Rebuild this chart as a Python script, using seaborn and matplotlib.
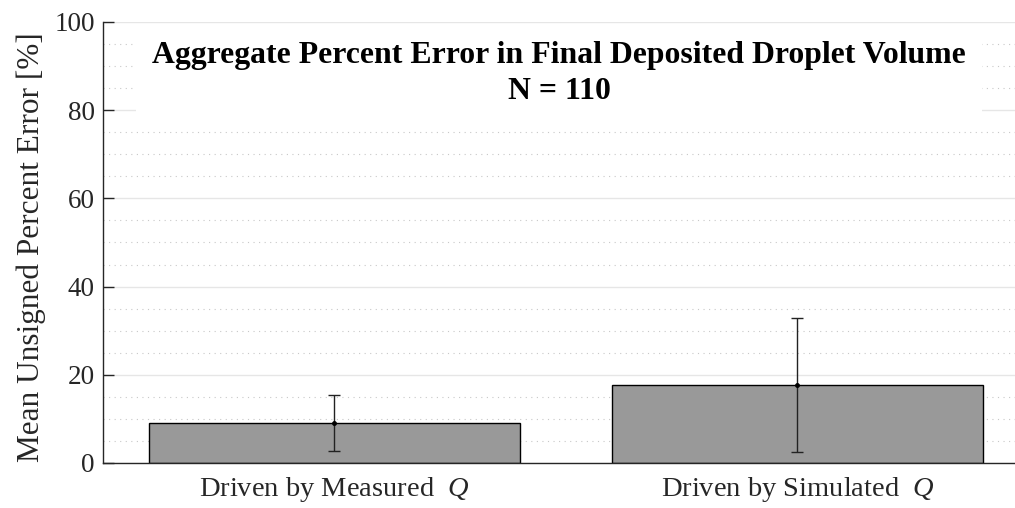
import matplotlib
matplotlib.use("Agg")
import matplotlib.pyplot as plt
import seaborn as sns
import pandas as pd
from matplotlib.ticker import MultipleLocator

categories = ["Driven by Measured  $Q$", "Driven by Simulated  $Q$"]
mean_error = [9.1, 17.7]
std_error = [6.3, 15.1]
title_lines = ["Aggregate Percent Error in Final Deposited Droplet Volume", "N = 110"]

sns.set_theme(style="white")
plt.rcParams['font.family'] = ['Liberation Serif', 'DejaVu Serif']
plt.rcParams['mathtext.fontset'] = 'custom'
plt.rcParams['mathtext.it'] = 'Liberation Serif:italic'
plt.rcParams['mathtext.rm'] = 'Liberation Serif'

df = pd.DataFrame({"cat": categories, "val": mean_error})

fig = plt.figure(figsize=(10.15, 5.08), dpi=100)
ax = fig.add_axes([0.1015, 0.0886, 0.8985, 0.8681])

sns.barplot(data=df, x="cat", y="val", ax=ax, color="#999999", saturation=1,
            edgecolor="black", linewidth=1.0, width=0.8, zorder=2)
ax.errorbar(range(len(categories)), mean_error, yerr=std_error, fmt='o', ms=2.5,
            color='black', ecolor='#222222', elinewidth=1.0, capsize=4.3, capthick=1.0, zorder=3)

ax.set_ylim(0, 100)
ax.set_xlim(-0.5, 1.47)
ax.yaxis.set_major_locator(MultipleLocator(20))
ax.yaxis.set_minor_locator(MultipleLocator(5))
ax.grid(True, which='major', axis='y', color='#e6e6e6', linewidth=1.0, linestyle='-', zorder=0)
ax.grid(True, which='minor', axis='y', color='#c8c8c8', linewidth=0.8, linestyle=(0, (1, 4)), zorder=0)
ax.set_axisbelow(True)

for s in ['top', 'right']:
    ax.spines[s].set_visible(False)
ax.spines['left'].set_color('#262626')
ax.spines['bottom'].set_color('#262626')
ax.spines['left'].set_linewidth(1.0)
ax.spines['bottom'].set_linewidth(1.0)

ax.tick_params(axis='y', which='major', direction='in', length=8, width=1, colors='#262626',
               labelsize=19.5, labelcolor='#262626', left=True, pad=6)
ax.tick_params(axis='y', which='minor', left=False)
ax.tick_params(axis='x', which='both', bottom=False, labelsize=20.5, labelcolor='#262626', pad=3)

ax.set_xlabel("")
ax.set_ylabel("Mean Unsigned Percent Error [%]", fontsize=22.5, color='#262626')
ax.yaxis.set_label_coords(-0.062, 0.49)

ax.text(0.5, 0.957, "\n".join(title_lines), transform=ax.transAxes, ha='center', va='top',
        fontsize=22.9, fontweight='bold', color='black', linespacing=1.3, zorder=5,
        bbox=dict(facecolor='white', edgecolor='none', pad=12))

fig.savefig("out.png", dpi=100)
